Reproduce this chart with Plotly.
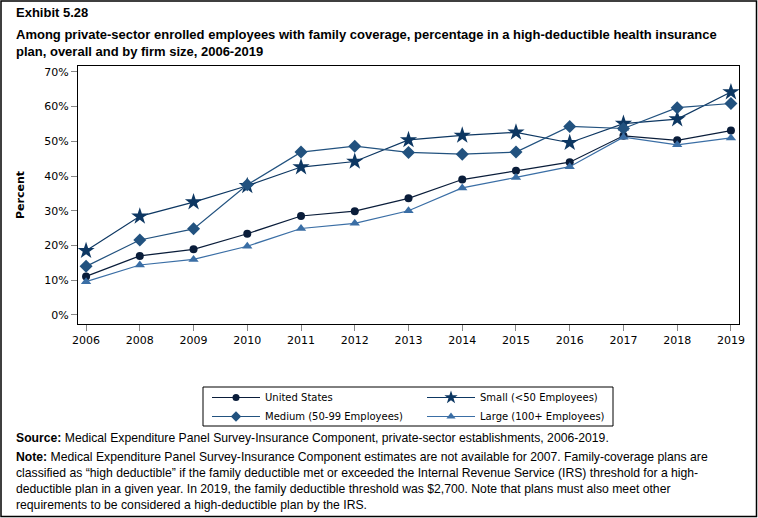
import plotly.graph_objects as go

years = ["2006", "2008", "2009", "2010", "2011", "2012", "2013", "2014", "2015", "2016", "2017", "2018", "2019"]
us = [11.1, 17.0, 18.9, 23.4, 28.5, 29.9, 33.6, 39.0, 41.5, 44.0, 51.6, 50.3, 53.1]
small = [18.5, 28.4, 32.5, 37.2, 42.6, 44.2, 50.4, 51.7, 52.6, 49.6, 55.1, 56.4, 64.2]
medium = [14.0, 21.6, 24.8, 37.5, 46.9, 48.6, 46.8, 46.3, 46.9, 54.3, 53.7, 59.7, 60.9]
large = [9.6, 14.4, 16.0, 19.8, 24.9, 26.4, 30.0, 36.6, 39.6, 42.7, 51.2, 49.0, 51.0]
ytick_vals = [0, 10, 20, 30, 40, 50, 60, 70]
ytick_text = ["0%", "10%", "20%", "30%", "40%", "50%", "60%", "70%"]

names = ["United States", "Small (<50 Employees)", "Medium (50-99 Employees)", "Large (100+ Employees)"]
series = [us, small, medium, large]
colors = ["#0a1d3a", "#0d3762", "#22527f", "#3a6ea5"]
symbols = ["circle", "star", "diamond", "triangle-up"]
sizes = [8, 13, 10, 9]
legend_sizes = [7, 10, 8, 8]
legend_ids = ["legend", "legend2", "legend", "legend2"]

FONT_T = "Liberation Sans, Arial, sans-serif"
TICKF = "DejaVu Sans, Verdana, sans-serif"

fig = go.Figure()
for n, s, c, sym, sz in zip(names, series, colors, symbols, sizes):
    fig.add_trace(go.Scatter(
        x=years, y=s, name=n, mode="lines+markers", showlegend=False,
        line=dict(color=c, width=1.2),
        marker=dict(symbol=sym, size=sz, color=c),
    ))
# legend entries (smaller symbols, as in the reference key)
for n, c, sym, lsz, lid in zip(names, colors, symbols, legend_sizes, legend_ids):
    fig.add_trace(go.Scatter(
        x=[None], y=[None], name=n, mode="lines+markers", legend=lid,
        line=dict(color=c, width=1.2),
        marker=dict(symbol=sym, size=lsz, color=c),
    ))

W, H = 758, 518
L, R, T, B = 78, 19, 66, 194
pw, ph = W - L - R, H - T - B

def px_x(x):
    return (x - L) / pw

def px_y(y):
    return 1 - (y - T) / ph

leg_common = dict(
    orientation="v", yanchor="top", xanchor="left",
    bgcolor="rgba(0,0,0,0)", borderwidth=0,
    font=dict(family=TICKF, size=10, color="black"),
    itemwidth=48, tracegroupgap=0,
)

fig.update_layout(
    width=W, height=H,
    margin=dict(l=L, r=R, t=T, b=B),
    paper_bgcolor="white", plot_bgcolor="white",
    showlegend=True,
    legend=dict(x=px_x(207), y=px_y(383), **leg_common),
    legend2=dict(x=px_x(422), y=px_y(383), **leg_common),
    xaxis=dict(
        type="category", range=[-0.15, 12.15],
        showline=True, linecolor="black", linewidth=1, mirror=True,
        ticks="outside", ticklen=6, tickcolor="#888888",
        tickfont=dict(family=TICKF, size=11, color="black"),
        showgrid=False, zeroline=False,
    ),
    yaxis=dict(
        range=[-2.6, 71.7], tickmode="array", tickvals=ytick_vals, ticktext=ytick_text,
        showline=True, linecolor="black", linewidth=1, mirror=True,
        ticks="outside", ticklen=6, tickcolor="#888888",
        tickfont=dict(family=TICKF, size=11, color="black"),
        showgrid=False, zeroline=False,
        title=dict(text="<b>Percent</b>", font=dict(family=TICKF, size=11, color="black"), standoff=17),
    ),
)

# legend frame
fig.add_shape(type="rect", xref="paper", yref="paper",
              x0=px_x(203), x1=px_x(613), y0=px_y(426), y1=px_y(387),
              line=dict(color="black", width=1), fillcolor="rgba(0,0,0,0)", layer="above")
# outer page border
fig.add_shape(type="rect", xref="paper", yref="paper",
              x0=px_x(1), x1=px_x(756.5), y0=px_y(516.5), y1=px_y(1),
              line=dict(color="black", width=1.5), fillcolor="rgba(0,0,0,0)", layer="above")

fig.add_annotation(xref="paper", yref="paper", x=px_x(14), y=px_y(12), xanchor="left", yanchor="middle",
                   text="<b>Exhibit 5.28</b>", showarrow=False, align="left",
                   font=dict(family=FONT_T, size=13, color="black"))
title_txt = ("<b>Among private-sector enrolled employees with family coverage, percentage in a high-deductible health insurance</b>"
             "<br><b>plan, overall and by firm size, 2006-2019</b>")
fig.add_annotation(xref="paper", yref="paper", x=px_x(14), y=px_y(43), xanchor="left", yanchor="middle",
                   text=title_txt, showarrow=False, align="left",
                   font=dict(family=FONT_T, size=13, color="black"))

source_txt = "<b>Source:</b> Medical Expenditure Panel Survey-Insurance Component, private-sector establishments, 2006-2019."
fig.add_annotation(xref="paper", yref="paper", x=px_x(14), y=px_y(438), xanchor="left", yanchor="middle",
                   text=source_txt, showarrow=False, align="left",
                   font=dict(family=FONT_T, size=12.2, color="black"))

note_txt = ("<b>Note:</b> Medical Expenditure Panel Survey-Insurance Component estimates are not available for 2007. Family-coverage plans are"
            "<br>classified as \u201chigh deductible\u201d if the family deductible met or exceeded the Internal Revenue Service (IRS) threshold for a high-"
            "<br>deductible plan in a given year. In 2019, the family deductible threshold was $2,700. Note that plans must also meet other"
            "<br>requirements to be considered a high-deductible plan by the IRS.")
fig.add_annotation(xref="paper", yref="paper", x=px_x(14), y=px_y(480.5), xanchor="left", yanchor="middle",
                   text=note_txt, showarrow=False, align="left",
                   font=dict(family=FONT_T, size=12.2, color="black"))

fig.write_html("out.html", config={"displayModeBar": False},
               post_script="document.body.style.margin='0';document.body.style.padding='0';")
